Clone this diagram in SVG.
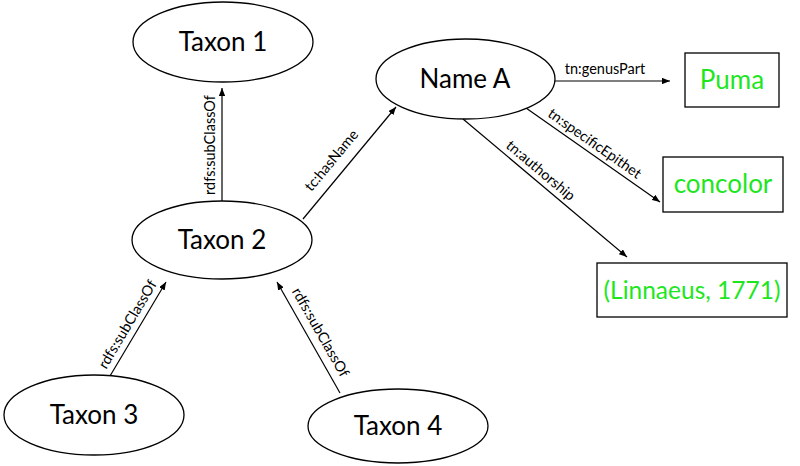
<svg xmlns="http://www.w3.org/2000/svg" width="800" height="466" viewBox="0 0 800 466">
<defs>
<marker id="arr" viewBox="0 0 10 8" refX="10" refY="4" markerWidth="8" markerHeight="6.4" markerUnits="userSpaceOnUse" orient="auto">
<path d="M0,0 L10,4 L0,8 z" fill="#000"/>
</marker>
</defs>
<style>
.node ellipse{fill:#fff;stroke:#000;stroke-width:1.3}
.lit rect{fill:#fff;stroke:#000;stroke-width:1.3}
.nt{font-family:"Lato","Open Sans","DejaVu Sans",sans-serif;font-size:26px;fill:#000;text-anchor:middle}
.lt{font-family:"Lato","Open Sans","DejaVu Sans",sans-serif;font-size:26px;fill:#1ee61e;text-anchor:middle}
.el{font-family:"Lato","Open Sans","DejaVu Sans",sans-serif;font-size:14.5px;fill:#000;text-anchor:middle;dominant-baseline:central}
.edges line{stroke:#000;stroke-width:1.2;marker-end:url(#arr)}
</style>
<rect width="800" height="466" fill="#fff"/>
<g id="edges" class="edges">
<line x1="222" y1="201" x2="222" y2="88"/>
<line x1="303" y1="219" x2="396" y2="107"/>
<line x1="555" y1="81" x2="670" y2="81"/>
<line x1="526" y1="108" x2="660" y2="202"/>
<line x1="463" y1="119" x2="627" y2="257"/>
<line x1="110" y1="376" x2="166" y2="282"/>
<line x1="340" y1="393" x2="277" y2="282"/>
<text class="el" transform="translate(209,145) rotate(-90)">rdfs:subClassOf</text>
<text class="el" transform="translate(331,160) rotate(-50.3)">tc:hasName</text>
<text class="el" x="605" y="68">tn:genusPart</text>
<text class="el" transform="translate(595,143) rotate(35)">tn:specificEpithet</text>
<text class="el" transform="translate(541,170) rotate(40)">tn:authorship</text>
<text class="el" transform="translate(127,324) rotate(-59.2)">rdfs:subClassOf</text>
<text class="el" transform="translate(321,332) rotate(60.4)">rdfs:subClassOf</text>
</g>
<g id="taxon1" class="node"><ellipse cx="223" cy="42" rx="90" ry="40"/><text class="nt" x="223" y="51">Taxon 1</text></g>
<g id="taxon2" class="node"><ellipse cx="222" cy="240" rx="90" ry="39"/><text class="nt" x="222" y="249">Taxon 2</text></g>
<g id="nameA" class="node"><ellipse cx="465.5" cy="79" rx="89.5" ry="40"/><text class="nt" x="465" y="88">Name A</text></g>
<g id="taxon3" class="node"><ellipse cx="94" cy="415" rx="90" ry="40"/><text class="nt" x="94" y="424">Taxon 3</text></g>
<g id="taxon4" class="node"><ellipse cx="398" cy="426" rx="90" ry="37"/><text class="nt" x="398" y="435">Taxon 4</text></g>
<g id="puma" class="lit"><rect x="685" y="53" width="94" height="54"/><text class="lt" x="732" y="89">Puma</text></g>
<g id="concolor" class="lit"><rect x="663" y="157" width="120" height="55"/><text class="lt" x="723" y="193">concolor</text></g>
<g id="linnaeus" class="lit"><rect x="597" y="263" width="190" height="54"/><text class="lt" x="692" y="299" style="font-size:24.5px">(Linnaeus, 1771)</text></g>
</svg>
